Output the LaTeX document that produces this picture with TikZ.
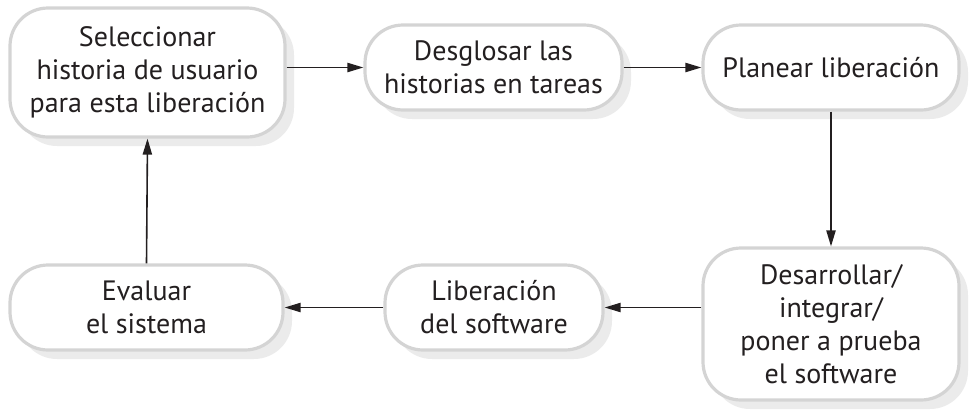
\documentclass[tikz,border=0pt]{standalone}
\usepackage{fontspec}
\setmainfont{PT Sans}
\usetikzlibrary{arrows.meta,shadows}
\definecolor{txt}{HTML}{231F20}
\definecolor{bord}{HTML}{D4D4D4}
\definecolor{shad}{HTML}{EBEBEB}
\begin{document}
\begin{tikzpicture}[x=0.5pt,y=-0.5pt,
  box/.style={draw=bord, line width=1.6pt, fill=white, rounded corners=19pt,
    align=center, text=txt, inner sep=0pt,
    font=\fontsize{14}{16.5}\selectfont,
    drop shadow={shadow xshift=4.5pt, shadow yshift=-4.5pt, fill=shad, opacity=1}},
  arr/.style={draw=txt, line width=0.8pt, -{Triangle[length=8pt,width=4.6pt]}}]
\useasboundingbox (0,0) rectangle (980,418);
\node[box, minimum width=137.5pt, minimum height=64.5pt] (b1) at (147.5,72.5)
  {Seleccionar\\historia de usuario\\para esta liberación};
\node[box, minimum width=128.5pt, minimum height=42.5pt] (b2) at (493.5,67.5)
  {Desglosar las\\historias en tareas};
\node[box, minimum width=128pt, minimum height=42.5pt] (b3) at (831,67.5)
  {Planear liberación};
\node[box, minimum width=128pt, minimum height=76pt] (b4) at (831,324)
  {Desarrollar/\\integrar/\\poner a prueba\\el software};
\node[box, minimum width=109pt, minimum height=42.5pt] (b5) at (494,307.5)
  {Liberación\\del software};
\node[box, minimum width=136.5pt, minimum height=42.5pt] (b6) at (146.5,307.5)
  {Evaluar\\el sistema};
\draw[arr] (b1.east |- b2.west) -- (b2.west);
\draw[arr] (b2.east) -- (b3.west);
\draw[arr] (b3.south) -- (b4.north);
\draw[arr] (b4.west |- b5.east) -- (b5.east);
\draw[arr] (b5.west) -- (b6.east);
\draw[arr] (b6.north) -- (b1.south);
\end{tikzpicture}
\end{document}
